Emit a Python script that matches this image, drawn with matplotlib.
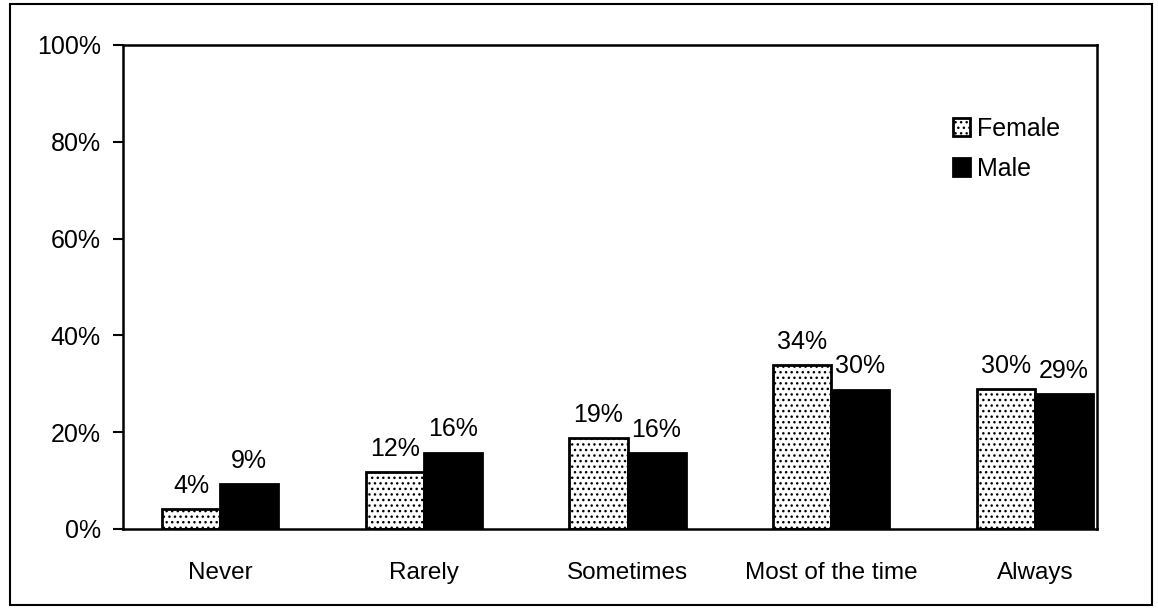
import matplotlib
matplotlib.use("Agg")
import matplotlib.pyplot as plt
import matplotlib.patches as mpatches
import numpy as np

categories = ["Never", "Rarely", "Sometimes", "Most of the time", "Always"]
female = [4.2, 11.7, 18.7, 33.8, 29.0]
male = [9.2, 15.8, 15.6, 28.8, 27.8]
female_labels = ["4%", "12%", "19%", "34%", "30%"]
male_labels = ["9%", "16%", "16%", "30%", "29%"]
yticks = [0, 20, 40, 60, 80, 100]
ytick_labels = ["0%", "20%", "40%", "60%", "80%", "100%"]

plt.rcParams['font.family'] = ['Liberation Sans', 'DejaVu Sans']
plt.rcParams['hatch.linewidth'] = 1.0

fig = plt.figure(figsize=(11.58, 6.14), dpi=100)
ax = fig.add_axes([123/1158, 1-529/614, (1097-123)/1158, (529-45)/614])

x = np.arange(len(categories))
w = 0.285
bf = ax.bar(x - w/2, female, w, facecolor='white', edgecolor='black',
            linewidth=2, hatch='...', label='Female')
bm = ax.bar(x + w/2, male, w, facecolor='black', edgecolor='black',
            linewidth=2, label='Male')

for xi, v, t in zip(x - w/2, female, female_labels):
    ax.annotate(t, (xi, v), xytext=(0, 8), textcoords='offset points',
                ha='center', va='bottom', fontsize=18)
for xi, v, t in zip(x + w/2, male, male_labels):
    ax.annotate(t, (xi, v), xytext=(0, 8), textcoords='offset points',
                ha='center', va='bottom', fontsize=18)

ax.set_ylim(0, 100)
ax.set_xlim(-0.476, 4.304)
ax.set_yticks(yticks)
ax.set_yticklabels(ytick_labels, fontsize=18)
ax.set_xticks(x)
ax.set_xticklabels(categories, fontsize=17.5)
ax.tick_params(axis='x', length=0, pad=24)
ax.tick_params(axis='y', length=7, width=1.5, pad=9, direction='out')
for s in ax.spines.values():
    s.set_linewidth(1.8)

leg = ax.legend(handles=[bf, bm], loc='upper left', bbox_to_anchor=(0.852, 0.852),
                frameon=False, fontsize=18, handlelength=0.7, handleheight=0.7,
                handletextpad=0.25, labelspacing=0.65, borderaxespad=0,
                borderpad=0)

border = mpatches.Rectangle((10/1158, 1-605/614), (1152-10)/1158, (605-4)/614,
                            transform=fig.transFigure, fill=False,
                            edgecolor='black', linewidth=1.5)
fig.patches.append(border)

fig.savefig("out.png", dpi=100)
